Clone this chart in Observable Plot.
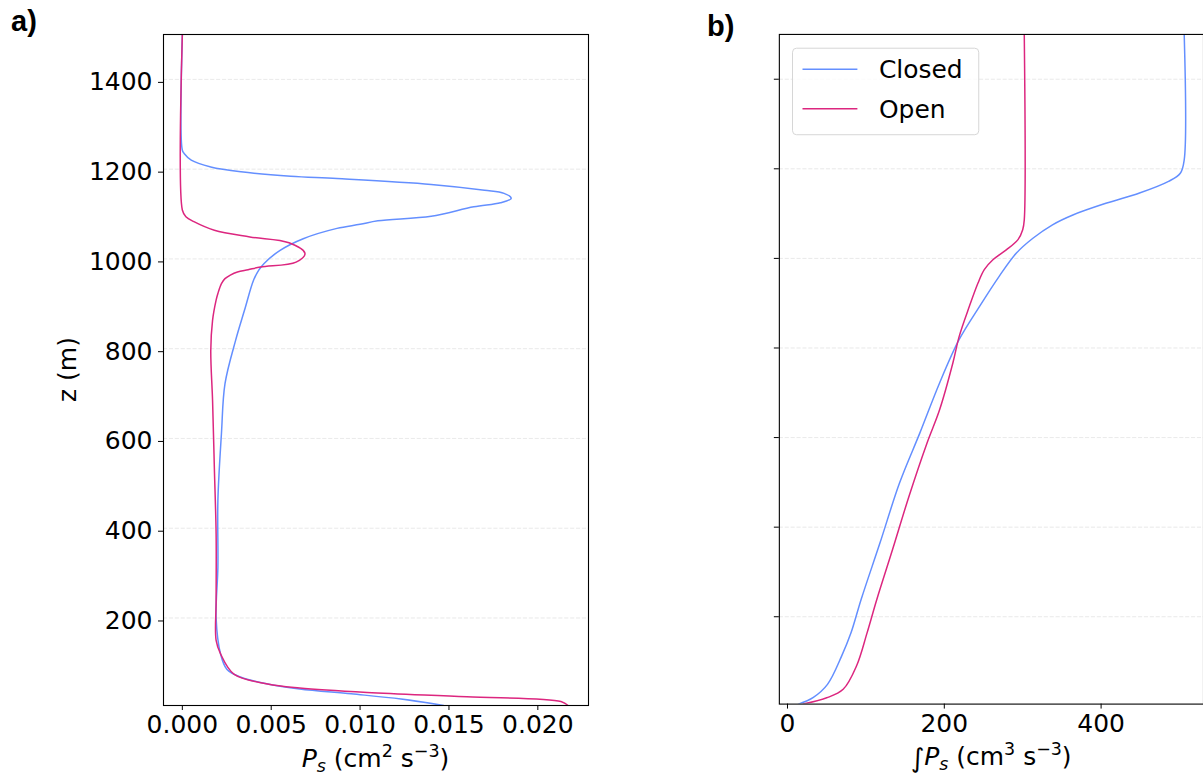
<!DOCTYPE html>
<html>
<head>
<meta charset="utf-8">
<script src="https://cdn.jsdelivr.net/npm/d3@7"></script>
<script src="https://cdn.jsdelivr.net/npm/@observablehq/plot@0.6"></script>
<style>
  html, body { margin: 0; padding: 0; background: #fff; overflow: hidden; }
  #wrap { position: relative; width: 1203px; height: 783px; overflow: hidden; background: #fff; font-family: "DejaVu Sans", sans-serif; }
  .panel { position: absolute; top: 0; }
  .tag { position: absolute; font-family: "Liberation Sans", Arial, sans-serif; font-weight: bold; font-size: 29px; line-height: 1; }
</style>
</head>
<body>
<div id="wrap">
  <div class="tag" style="left:11px; top:7px;">a)</div>
  <div class="tag" style="left:707px; top:12px;">b)</div>
  <div id="pa" class="panel" style="left:0px;"></div>
  <div id="pb" class="panel" style="left:700px;"></div>
</div>
<script>
// ---------------- data ----------------
const seriesNames = ["Closed", "Open"];
const seriesColors = ["#648FFF", "#DC267F"];

// panel a: P_s (cm^2 s^-3) versus z (m)
const closedZ  = [1500, 1242, 1235, 1220, 1205, 1194, 1184, 1179, 1166, 1153, 1146, 1135, 1125, 1116, 1095, 1085, 1077, 1068, 1045, 1019, 990, 975, 952, 886, 819, 722, 611, 462, 313, 200, 120, 86, 68, 53, 42, 31, 19.5, 5];
const closedPs = [0, 0, 0.0001, 0.0005, 0.0016, 0.0033, 0.0061, 0.0087, 0.0140, 0.0170, 0.0181, 0.0185, 0.0179, 0.0164, 0.0140, 0.0110, 0.0100, 0.0087, 0.0068, 0.0055, 0.0046, 0.0043, 0.0040, 0.0035, 0.0030, 0.0024, 0.0022, 0.0020, 0.0020, 0.0019, 0.00215, 0.0025, 0.0033, 0.0048, 0.0066, 0.0095, 0.0123, 0.0147];

const openZ  = [1500, 1109, 1094, 1083, 1064, 1049, 1036, 1012, 993, 982, 976, 971, 964, 956, 945, 923, 908, 863, 796, 685, 536, 387, 239, 150, 120, 75, 53, 44, 34, 24.5, 14, 5];
const openPs = [0, 0, 0.0002, 0.00065, 0.0018, 0.0038, 0.0060, 0.0069, 0.0064, 0.0044, 0.0037, 0.0031, 0.0027, 0.0024, 0.0022, 0.0020, 0.0019, 0.0017, 0.0016, 0.0017, 0.0018, 0.0019, 0.0019, 0.0019, 0.00215, 0.0029, 0.0048, 0.0066, 0.0104, 0.0160, 0.0213, 0.0217];

// panel b: integral of P_s (cm^3 s^-3) versus z (m)
const closedIntZ = [1500, 1220, 1190, 1172, 1146, 1123, 1097, 1075, 1045, 1012, 960, 893, 819, 722, 611, 499, 365, 239, 164, 112, 49, 20, 5];
const closedInt  = [506, 506, 501, 486, 449, 406, 364, 338, 313, 292, 270, 245, 219, 194, 169, 143, 118, 94, 81, 69, 51, 33, 14];

const openIntZ = [1500, 1086, 1064, 1042, 1019, 997, 975, 945, 893, 826, 767, 662, 588, 469, 350, 239, 164, 90, 38, 19, 5];
const openInt  = [302, 302, 300, 294, 279, 262, 251, 243, 232, 219, 211, 194, 178, 155, 134, 114, 101.5, 88, 71, 50, 20];

// ticks
const zTicks   = [200, 400, 600, 800, 1000, 1200, 1400];
const psTicks  = [0, 0.005, 0.010, 0.015, 0.020];
const intTicks = [0, 200, 400];

// ---------------- helpers ----------------
const toRows = (zs, vs, name) => zs.map((z, i) => ({z, v: vs[i], name}));
const closedA = toRows(closedZ, closedPs, "Closed");
const openA   = toRows(openZ, openPs, "Open");
const closedB = toRows(closedIntZ, closedInt, "Closed");
const openB   = toRows(openIntZ, openInt, "Open");

const FS = 25;
const common = {
  height: 783,
  marginTop: 34,
  marginBottom: 78,
  style: {fontFamily: "DejaVu Sans, sans-serif", fontSize: FS + "px", color: "black", background: "transparent", overflow: "visible"},
  y: {domain: [5, 1500]},
  color: {domain: seriesNames, range: seriesColors}
};
const grid = () => Plot.gridY(zTicks, {stroke: "#b0b0b0", strokeOpacity: 0.35, strokeWidth: 0.8, strokeDasharray: "4.1,1.8"});

// ---------------- panel a ----------------
const plotA = Plot.plot({
  ...common,
  width: 600,
  marginLeft: 163,
  marginRight: 12,
  x: {domain: [-0.00106, 0.02285]},
  marks: [
    grid(),
    Plot.line(closedA, {x: "v", y: "z", stroke: "name", strokeWidth: 1.5, curve: "catmull-rom", clip: true}),
    Plot.line(openA,   {x: "v", y: "z", stroke: "name", strokeWidth: 1.5, curve: "catmull-rom", clip: true}),
    Plot.frame({stroke: "black", strokeWidth: 1.1}),
    Plot.axisX(psTicks, {tickSize: 5, tickPadding: 5, tickFormat: d3.format(".3f"), label: null, fontSize: FS}),
    Plot.axisY(zTicks, {tickSize: 5, tickPadding: 6, dy: 3, tickFormat: d3.format("d"), label: null, fontSize: FS})
  ]
});
document.getElementById("pa").appendChild(plotA);

// ---------------- panel b ----------------
const plotB = Plot.plot({
  ...common,
  width: 504,
  marginLeft: 79,
  marginRight: 0,
  x: {domain: [-10.4, 530.6]},
  marks: [
    grid(),
    Plot.line(closedB, {x: "v", y: "z", stroke: "name", strokeWidth: 1.5, curve: "catmull-rom", clip: true}),
    Plot.line(openB,   {x: "v", y: "z", stroke: "name", strokeWidth: 1.5, curve: "catmull-rom", clip: true}),
    Plot.frame({stroke: "black", strokeWidth: 1.1}),
    Plot.axisX(intTicks, {tickSize: 5, tickPadding: 5, tickFormat: d3.format("d"), label: null, fontSize: FS}),
    Plot.axisY(zTicks, {tickSize: 5, fill: "none", label: null})
  ]
});
document.getElementById("pb").appendChild(plotB);

// ---------------- axis labels (mathtext-like) ----------------
function mathLabel(svg, cx, baseline, withInt, sup1) {
  const t = d3.select(svg).append("text")
    .attr("x", cx).attr("y", baseline)
    .attr("text-anchor", "middle")
    .attr("font-family", "DejaVu Sans, sans-serif")
    .attr("font-size", FS).attr("fill", "black");
  if (withInt) t.append("tspan").attr("font-size", FS * 1.05).attr("dy", 2).text("∫");
  t.append("tspan").attr("font-style", "italic").attr("dy", withInt ? -2 : 0).text("P");
  t.append("tspan").attr("font-style", "italic").attr("font-size", FS * 0.7).attr("dy", 5).text("s");
  t.append("tspan").attr("dy", -5).text(" (cm");
  t.append("tspan").attr("font-size", FS * 0.7).attr("dy", -10).text(sup1);
  t.append("tspan").attr("dy", 10).text(" s");
  t.append("tspan").attr("font-size", FS * 0.7).attr("dy", -10).text("−3");
  t.append("tspan").attr("dy", 10).text(")");
}
mathLabel(plotA, 375.5, 767, false, "2");
mathLabel(plotB, 291.7, 767, true, "3");

d3.select(plotA).append("text")
  .attr("transform", "translate(76,369.5) rotate(-90)")
  .attr("text-anchor", "middle")
  .attr("font-family", "DejaVu Sans, sans-serif")
  .attr("font-size", FS).attr("fill", "black")
  .text("z (m)");

// ---------------- legend ----------------
const lg = d3.select(plotB).append("g").attr("text-anchor", "start");
lg.append("rect")
  .attr("x", 92.7).attr("y", 48.3).attr("width", 186.6).attr("height", 86.7)
  .attr("rx", 4).attr("ry", 4)
  .attr("fill", "white").attr("fill-opacity", 0.8)
  .attr("stroke", "#d6d6d6").attr("stroke-width", 1);
seriesNames.forEach((name, i) => {
  const ly = 69.3 + i * 39.7;
  lg.append("line")
    .attr("x1", 102.7).attr("x2", 157.7).attr("y1", ly).attr("y2", ly)
    .attr("stroke", seriesColors[i]).attr("stroke-width", 1.5);
  lg.append("text")
    .attr("x", 179.3).attr("y", ly + 9.3)
    .attr("text-anchor", "start")
    .attr("font-family", "DejaVu Sans, sans-serif")
    .attr("font-size", FS).attr("fill", "black")
    .text(name);
});
</script>
</body>
</html>
